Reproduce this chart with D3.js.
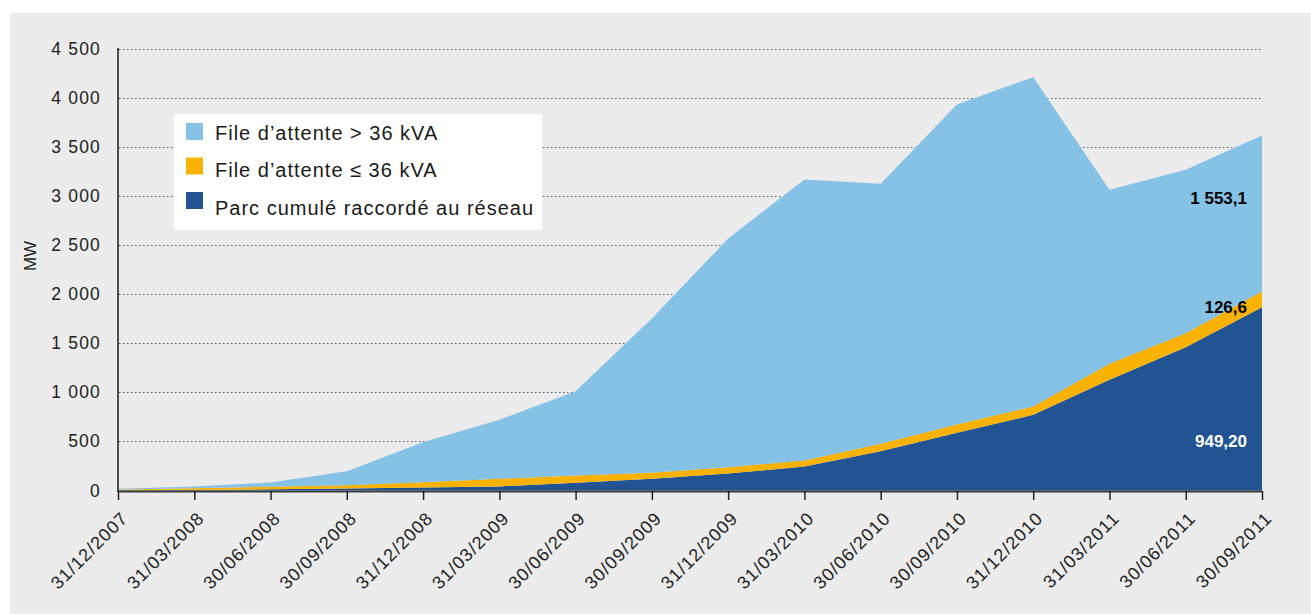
<!DOCTYPE html>
<html><head><meta charset="utf-8">
<script src="https://cdn.jsdelivr.net/npm/d3@7"></script>
<style>
html,body{margin:0;padding:0;background:#fff;}
svg text{font-family:"Liberation Sans",Arial,sans-serif;}
</style></head>
<body><svg id="chart" width="1311" height="614"></svg>
<script>
const dates = ["31/12/2007","31/03/2008","30/06/2008","30/09/2008","31/12/2008","31/03/2009","30/06/2009","30/09/2009","31/12/2009","31/03/2010","30/06/2010","30/09/2010","31/12/2010","31/03/2011","30/06/2011","30/09/2011"];
const parcRaccorde = [3, 6, 12, 20, 30, 42, 80, 120, 173, 244, 400, 587, 770, 1127, 1459, 1866];
const fileInf36 = [7, 17, 26, 34, 55, 77, 73, 60, 64, 61, 75, 85, 85, 163, 142, 160];
const fileSup36 = [7, 17, 43, 143, 407, 601, 858, 1570, 2328, 2861, 2648, 3258, 3353, 1771, 1664, 1588];
const yTicks = [0, 500, 1000, 1500, 2000, 2500, 3000, 3500, 4000, 4500];
const seriesNames = ["File d\u2019attente > 36 kVA", "File d\u2019attente \u2264 36 kVA", "Parc cumul\u00e9 raccord\u00e9 au r\u00e9seau"];
const seriesColors = ["#86c2e6", "#f9b200", "#225493"];
const annotations = [
  {i: 15, text: "1 553,1", color: "#000", y: 2980},
  {i: 15, text: "126,6", color: "#000", y: 1870},
  {i: 15, text: "949,20", color: "#fff", y: 500}
];

const svg = d3.select("#chart");
svg.append("rect").attr("x", 10).attr("y", 13).attr("width", 1301).attr("height", 601).attr("fill", "#ebeceb");

const x = d3.scalePoint().domain(dates).range([118, 1262]);
const y = d3.scaleLinear().domain([0, 4500]).range([490.5, 48.5]);
const loc = d3.formatLocale({decimal: ",", thousands: " ", grouping: [3], currency: ["", ""]});
const fmt = loc.format(",d");

// gridlines
svg.append("g").selectAll("line").data(yTicks.slice(1)).join("line")
  .attr("x1", 119).attr("x2", 1262)
  .attr("y1", d => Math.round(y(d)) + 0.5).attr("y2", d => Math.round(y(d)) + 0.5)
  .attr("stroke", "#555").attr("stroke-width", 1).attr("stroke-dasharray", "1.5,2.5");

// stacked areas
const rows = dates.map((d, i) => ({date: d, parc: parcRaccorde[i], inf: fileInf36[i], sup: fileSup36[i]}));
const stack = d3.stack().keys(["parc", "inf", "sup"]);
const layers = stack(rows);
const colorByKey = {parc: seriesColors[2], inf: seriesColors[1], sup: seriesColors[0]};
const area = d3.area().x(d => x(d.data.date)).y0(d => y(d[0])).y1(d => y(d[1]));
svg.append("g").selectAll("path").data(layers).join("path")
  .attr("d", area).attr("fill", d => colorByKey[d.key]);

// y axis
const yAxis = d3.axisLeft(y).tickValues(yTicks).tickSize(0).tickPadding(17).tickFormat(fmt);
const gy = svg.append("g").attr("transform", "translate(118,0)").call(yAxis);
gy.select(".domain").remove();
gy.selectAll("text").attr("font-size", 17.5).attr("fill", "#222").style("letter-spacing", "1.2px");
svg.append("line").attr("x1", 118).attr("x2", 118).attr("y1", 48).attr("y2", 492)
  .attr("stroke", "#1a1a1a").attr("stroke-width", 1.5);

// x axis
const xAxis = d3.axisBottom(x).tickSize(9).tickSizeOuter(0).tickPadding(4);
const gx = svg.append("g").attr("transform", "translate(0,491)").call(xAxis);
gx.select(".domain").attr("stroke", "#3a3a3a").attr("stroke-width", 2);
gx.selectAll(".tick line").attr("stroke", "#222").attr("stroke-width", 1.5);
gx.selectAll("text")
  .attr("font-size", 18).attr("fill", "#222").style("letter-spacing", "1px")
  .attr("text-anchor", "end")
  .attr("transform", "translate(6,24) rotate(-45)")
  .attr("x", 0).attr("y", 0).attr("dy", "0.35em");

// y label
svg.append("text").attr("transform", "translate(36,256) rotate(-90)")
  .attr("text-anchor", "middle").attr("font-size", 17).attr("fill", "#222").text("MW");

// annotations
svg.append("g").selectAll("text").data(annotations).join("text")
  .attr("x", d => x(dates[d.i]) - 15).attr("y", d => y(d.y))
  .attr("text-anchor", "end").attr("font-size", 17).attr("font-weight", "bold")
  .attr("fill", d => d.color).attr("dy", "0.35em").text(d => d.text);

// legend
const lg = svg.append("g");
lg.append("rect").attr("x", 174).attr("y", 114).attr("width", 368).attr("height", 116).attr("fill", "#fff");
const items = lg.selectAll("g.item").data(seriesNames).join("g").attr("class", "item");
items.append("rect").attr("x", 186).attr("y", (d, i) => 123 + i * 34.5)
  .attr("width", 17).attr("height", 17).attr("fill", (d, i) => seriesColors[i]);
items.append("text").attr("x", 215).attr("y", (d, i) => 139.5 + i * 37.5).attr("font-size", 20).attr("fill", "#1a1a1a")
  .style("letter-spacing", "1px").text(d => d);
</script>
</body></html>
